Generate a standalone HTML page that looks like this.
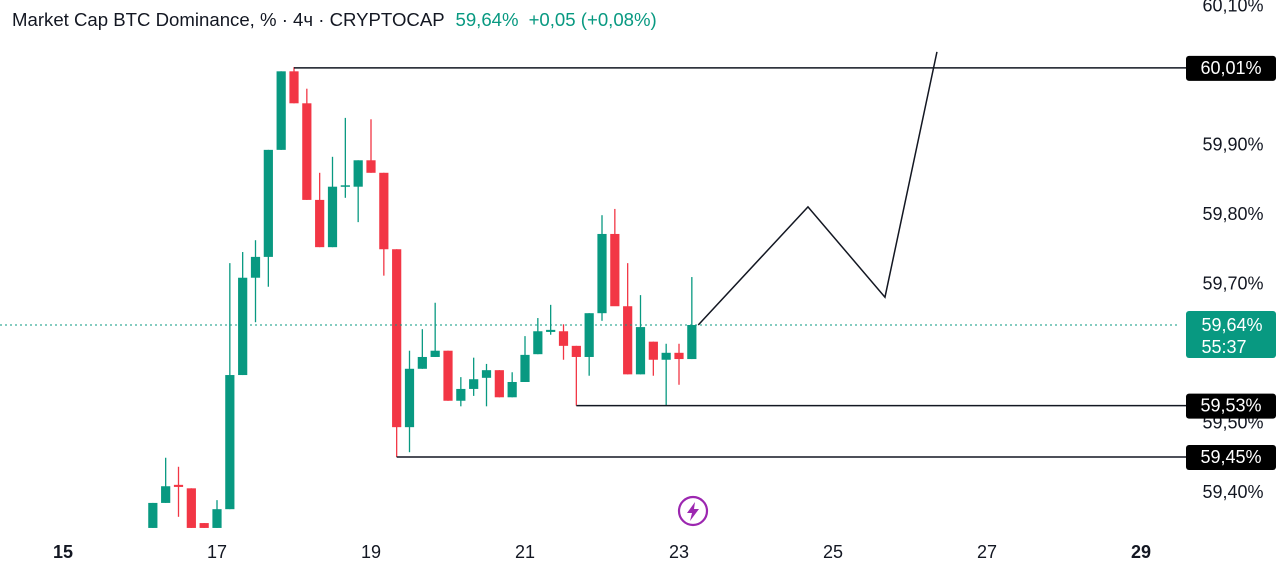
<!DOCTYPE html>
<html><head><meta charset="utf-8"><style>
body{margin:0;background:#fff;width:1280px;height:572px;overflow:hidden;font-family:"Liberation Sans",sans-serif}
svg{display:block}
</style></head><body>
<svg id="c" width="1280" height="572">
<text x="12" y="26" font-size="18.6" fill="#131722">Market Cap BTC Dominance, % · 4ч · CRYPTOCAP <tspan fill="#089981" dx="6">59,64%</tspan><tspan fill="#089981" dx="10">+0,05 (+0,08%)</tspan></text>
<g id="plot"><defs><clipPath id="clip"><rect x="0" y="0" width="1180" height="530"/></clipPath></defs></g>
</svg>
<script>
const startDay=16.1667; // first candle time (day 16, 04:00)
const opens=[59.348,59.384,59.410,59.405,59.355,59.348,59.375,59.568,59.708,59.738,59.892,60.005,59.959,59.820,59.752,59.839,59.839,59.877,59.859,59.749,59.493,59.577,59.594,59.603,59.531,59.548,59.564,59.575,59.536,59.558,59.598,59.630,59.631,59.610,59.594,59.657,59.771,59.667,59.569,59.616,59.590,59.600,59.591];
const highs=[59.384,59.449,59.436,59.405,59.355,59.388,59.729,59.745,59.762,59.892,60.005,60.011,59.980,59.859,59.882,59.938,59.877,59.936,59.859,59.749,59.603,59.634,59.672,59.603,59.565,59.593,59.584,59.575,59.572,59.624,59.650,59.669,59.641,59.610,59.657,59.798,59.807,59.729,59.683,59.616,59.613,59.613,59.709];
const lows=[59.348,59.384,59.364,59.348,59.348,59.348,59.375,59.568,59.644,59.695,59.892,59.959,59.820,59.752,59.752,59.823,59.788,59.859,59.711,59.450,59.457,59.577,59.594,59.531,59.523,59.538,59.523,59.536,59.536,59.558,59.598,59.626,59.590,59.524,59.567,59.646,59.767,59.569,59.569,59.567,59.524,59.554,59.591];
const closes=[59.384,59.408,59.407,59.348,59.348,59.375,59.568,59.708,59.738,59.892,60.005,59.959,59.820,59.752,59.839,59.841,59.877,59.859,59.749,59.493,59.577,59.594,59.603,59.531,59.548,59.562,59.575,59.536,59.558,59.597,59.631,59.633,59.610,59.594,59.657,59.771,59.667,59.569,59.637,59.590,59.600,59.591,59.640];
const projDays=[23.25,24.675,25.675,26.35];
const projVals=[59.640,59.810,59.680,60.033];
const levels=[60.01,59.524,59.45];
const levelLabels=["60,01%","59,53%","59,45%"];
const levelStartIdx=[11,33,19];
const yTicks=[60.10,59.90,59.80,59.70,59.50,59.40];
const yTickLabels=["60,10%","59,90%","59,80%","59,70%","59,50%","59,40%"];
const xTicks=[15,17,19,21,23,25,27,29];
const lastPrice=59.64;

const X=d=>217+(d-17)*77;
const Y=v=>325-(v-59.64)*695;
const NS="http://www.w3.org/2000/svg";
const svg=document.getElementById('c');
function mk(tag,attrs,parent){const e=document.createElementNS(NS,tag);for(const k in attrs)e.setAttribute(k,attrs[k]);(parent||svg).appendChild(e);return e;}
const g=mk('g',{'clip-path':'url(#clip)'});
const pl=mk('line',{x1:0,x2:1180,y1:Y(lastPrice),y2:Y(lastPrice),stroke:'#089981','stroke-dasharray':'2,3','stroke-width':1});


for(let i=0;i<opens.length;i++){
  const x=X(startDay+i/6);const up=closes[i]>=opens[i];const col=up?'#089981':'#f23645';
  const w=mk('line',{x1:x,x2:x,y1:Y(highs[i]),y2:Y(lows[i]),stroke:col,'stroke-width':1.3},g);
  
  
  const t=Y(Math.max(opens[i],closes[i])),b=Y(Math.min(opens[i],closes[i]));
  const r=mk('rect',{x:x-4.6,y:t,width:9.2,height:Math.max(1.5,b-t),fill:col},g);
  
  
}
levels.forEach((v,i)=>{
  const l=mk('line',{x1:X(startDay+levelStartIdx[i]/6),x2:1186,y1:Y(v),y2:Y(v),stroke:'#131722','stroke-width':1.5});
  
  
});
const pts=projDays.map((d,i)=>X(d)+','+Y(projVals[i])).join(' ');
const pp=mk('polyline',{points:pts,fill:'none',stroke:'#131722','stroke-width':1.5});


yTicks.forEach((v,i)=>{
  const t=mk('text',{x:1233,y:Y(v)+6,'font-size':18,fill:'#131722','text-anchor':'middle'});
  t.textContent=yTickLabels[i];
  
  
});
levels.forEach((v,i)=>{
  const r=mk('rect',{x:1186,y:Y(v)-12,width:90,height:25,rx:3,fill:'#000'});
  
  
  const t=mk('text',{x:1231,y:Y(v)+6,'font-size':18,fill:'#fff','text-anchor':'middle'});
  t.textContent=levelLabels[i];
  
  
});
const lb=mk('rect',{x:1186,y:Y(lastPrice)-14,width:90,height:47,rx:3,fill:'#089981'});


const lt=mk('text',{x:1232,y:Y(lastPrice)+6,'font-size':18,fill:'#fff','text-anchor':'middle'});
lt.textContent='59,64%';


const ct=mk('text',{x:1224,y:Y(lastPrice)+28,'font-size':18,fill:'#fff','text-anchor':'middle'});
ct.textContent='55:37';


xTicks.forEach(d=>{
  const t=mk('text',{x:X(d),y:558,'font-size':18,'font-weight':d===15||d===29?'bold':'normal',fill:'#131722','text-anchor':'middle'});
  t.textContent=String(d);
  
  
});
const ic=mk('circle',{cx:693,cy:511,r:14,fill:'#fff',stroke:'#9c27b0','stroke-width':2.2});


const bolt=mk('polygon',{points:'695,502 687,513 692,513 690,521 699,509 694,509',fill:'#9c27b0'});


</script>
</body></html>
